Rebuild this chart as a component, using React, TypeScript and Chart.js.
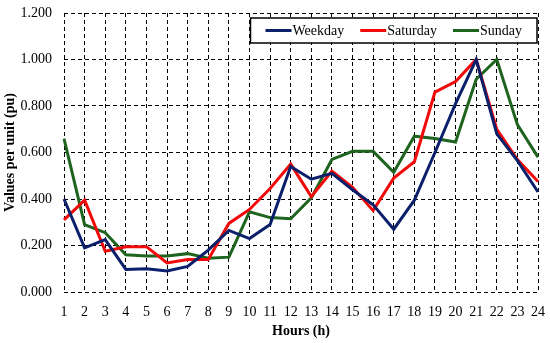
import React, { useEffect, useRef } from "react";
import { Chart, registerables } from "chart.js";

Chart.register(...registerables);

const hours = ["1","2","3","4","5","6","7","8","9","10","11","12","13","14","15","16","17","18","19","20","21","22","23","24"];
const weekday = [0.40,0.19,0.225,0.097,0.10,0.09,0.11,0.18,0.265,0.23,0.29,0.54,0.485,0.51,0.44,0.375,0.27,0.395,0.60,0.81,1.00,0.68,0.565,0.43];
const saturday = [0.31,0.395,0.175,0.195,0.195,0.125,0.14,0.14,0.295,0.355,0.445,0.55,0.41,0.52,0.45,0.35,0.49,0.56,0.86,0.905,1.00,0.70,0.57,0.475];
const sunday = [0.66,0.29,0.255,0.16,0.155,0.155,0.165,0.145,0.15,0.345,0.32,0.315,0.405,0.57,0.605,0.605,0.515,0.67,0.66,0.645,0.915,1.00,0.72,0.58];
const seriesNames = ["Weekday", "Saturday", "Sunday"];
const seriesColors = ["#0B1F6B", "#F00A0A", "#1E641E"];
const yTicks = [0, 0.2, 0.4, 0.6, 0.8, 1.0, 1.2];

const FONT = "'Liberation Serif', 'Times New Roman', serif";

const boxLegend = {
  id: "boxLegend",
  afterDatasetsDraw(chart: any) {
    const { ctx, chartArea } = chart;
    const right = chartArea.right - 1;
    const top = chartArea.top + 5;
    const h = 25;
    const padL = 15, lineW = 26, gap = 2, itemGap = 15;
    ctx.save();
    ctx.font = `14px ${FONT}`;
    let total = padL;
    const widths = chart.data.datasets.map((d: any) => ctx.measureText(d.label).width);
    widths.forEach((w: number) => { total += lineW + gap + w + itemGap; });
    total -= itemGap;
    total += 14;
    const left = right - total;
    ctx.fillStyle = "#fff";
    ctx.fillRect(left, top, total, h);
    ctx.strokeStyle = "#000";
    ctx.lineWidth = 1.5;
    ctx.strokeRect(left, top, total, h);
    let x = left + padL;
    const cy = top + h / 2;
    chart.data.datasets.forEach((d: any, i: number) => {
      ctx.strokeStyle = d.borderColor;
      ctx.lineWidth = 3;
      ctx.beginPath();
      ctx.moveTo(x, cy);
      ctx.lineTo(x + lineW, cy);
      ctx.stroke();
      x += lineW + gap;
      ctx.fillStyle = "#000";
      ctx.textBaseline = "middle";
      ctx.textAlign = "left";
      ctx.fillText(d.label, x - 1, cy + 1);
      x += widths[i] + itemGap;
    });
    ctx.restore();
  },
};

export default function App() {
  const ref = useRef<HTMLCanvasElement>(null);
  useEffect(() => {
    document.body.style.margin = "0";
    const series = [weekday, saturday, sunday];
    const chart = new Chart(ref.current!, {
      type: "line",
      data: {
        labels: hours,
        datasets: series.map((s, i) => ({
          label: seriesNames[i],
          data: s,
          borderColor: seriesColors[i],
          backgroundColor: seriesColors[i],
          borderWidth: 3,
          pointRadius: 0,
          tension: 0,
        })),
      },
      options: {
        animation: false,
        responsive: false,
        layout: { padding: { top: 13, right: 12, left: 0, bottom: 0 } },
        plugins: { legend: { display: false }, tooltip: { enabled: false } },
        scales: {
          x: {
            grid: { color: "#000", lineWidth: 1, drawTicks: false },
            border: { display: false, dash: [4, 3] },
            ticks: { color: "#000", font: { family: FONT, size: 14 }, padding: 12, maxRotation: 0, autoSkip: false },
            title: { display: true, text: "Hours (h)", color: "#000", font: { family: FONT, size: 14, weight: "bold" }, padding: { top: 0, bottom: 3 } },
            afterFit: (s: any) => { s.height = 51; s.paddingLeft = 0; s.paddingRight = 0; },
          },
          y: {
            min: 0,
            max: 1.2,
            afterBuildTicks: (s: any) => { s.ticks = yTicks.map((v) => ({ value: v })); },
            grid: { color: "#000", lineWidth: 1, drawTicks: false },
            border: { display: false, dash: [4, 3] },
            ticks: { color: "#000", font: { family: FONT, size: 14 }, padding: 12, callback: (v: any) => Number(v).toFixed(3) },
            title: { display: true, text: "Values per unit (pu)", color: "#000", font: { family: FONT, size: 14, weight: "bold" }, padding: { top: 2, bottom: 0 } },
            afterFit: (s: any) => { s.width = 64; s.paddingTop = 0; s.paddingBottom = 0; },
          },
        },
      },
      plugins: [boxLegend],
    });
    return () => chart.destroy();
  }, []);
  return (
    <div style={{ position: "fixed", left: 0, top: 0, width: 550, height: 343 }}>
      <canvas ref={ref} width={550} height={343} />
    </div>
  );
}
